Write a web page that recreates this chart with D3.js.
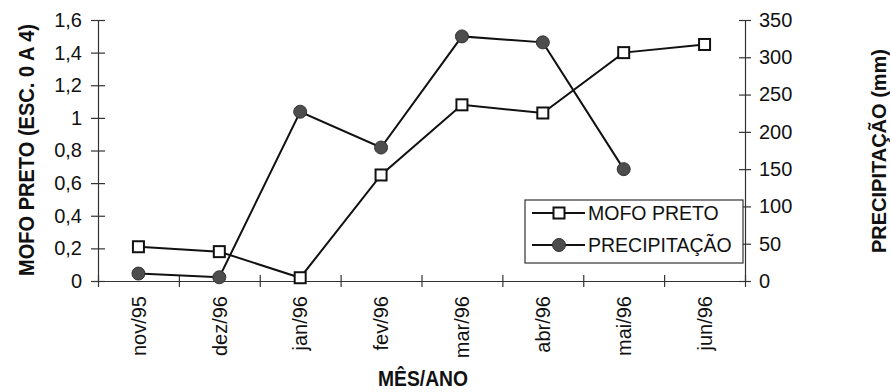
<!DOCTYPE html>
<html><head><meta charset="utf-8">
<script src="https://cdn.jsdelivr.net/npm/d3@7"></script>
<style>body{margin:0;background:#fff}svg{display:block}</style>
</head><body><svg id="c" width="890" height="392"></svg>
<script>
const months = ["nov/95","dez/96","jan/96","fev/96","mar/96","abr/96","mai/96","jun/96"];
const mofoPreto = [0.21,0.18,0.02,0.65,1.08,1.03,1.40,1.45];
const precipMonths = ["nov/95","dez/96","jan/96","fev/96","mar/96","abr/96","mai/96"];
const precipitacao = [10,5,227,179,328,320,150];
const leftTicks = [0,0.2,0.4,0.6,0.8,1,1.2,1.4,1.6];
const leftTickLabels = ["0","0,2","0,4","0,6","0,8","1","1,2","1,4","1,6"];
const rightTicks = [0,50,100,150,200,250,300,350];
const seriesNames = ["MOFO PRETO","PRECIPITAÇÃO"];

const svg = d3.select("#c");
const FONT = "'Liberation Sans', Arial, sans-serif";
const NARROW = "'Liberation Sans Narrow', 'Liberation Sans', Arial, sans-serif";
const L = 98, R = 745, T = 20, B = 281;

const x = d3.scaleBand().domain(months).range([L, R]);
const xb = d3.scaleLinear().domain([0, months.length]).range([L, R]);
const y1 = d3.scaleLinear().domain([0, 1.6]).range([B, T]);
const y2 = d3.scaleLinear().domain([0, 350]).range([B, T]);

// bottom axis (ticks at category boundaries)
const gx = svg.append("g").attr("transform", `translate(0,${B})`)
  .call(d3.axisBottom(xb).tickValues(d3.range(months.length + 1)).tickFormat("").tickSizeOuter(0).tickSizeInner(6));
gx.selectAll(".tick line").attr("y1", -6).attr("y2", 6);
const gxl = svg.append("g").attr("transform", `translate(0,${B})`)
  .call(d3.axisBottom(x).tickSize(0));
gxl.select(".domain").remove();
gxl.selectAll("text").attr("transform", "rotate(-90)").attr("x", -15).attr("y", 0).attr("dy", "0.36em")
  .attr("text-anchor", "end").style("font-family", FONT).style("font-size", "20px").attr("fill", "#111");

// left axis
const gl = svg.append("g").attr("transform", `translate(${L},0)`)
  .call(d3.axisLeft(y1).tickValues(leftTicks).tickFormat((d, i) => leftTickLabels[i]).tickSizeOuter(0).tickSizeInner(7));
gl.selectAll(".tick line").attr("x1", -7).attr("x2", 7);
gl.selectAll(".tick text").attr("x", -16).style("font-family", FONT).style("font-size", "20px").attr("fill", "#111");

// right axis
const gr = svg.append("g").attr("transform", `translate(${R},0)`)
  .call(d3.axisRight(y2).tickValues(rightTicks).tickSizeOuter(0).tickSizeInner(6));
gr.selectAll(".tick line").attr("x1", -6).attr("x2", 6);
gr.selectAll(".tick text").attr("x", 14).style("font-family", FONT).style("font-size", "20px").attr("fill", "#111");

svg.selectAll(".domain, .tick line").attr("stroke", "#333").attr("stroke-width", 1.2);

// axis titles
svg.append("text").attr("transform", "translate(34,150) rotate(-90)").attr("text-anchor", "middle")
  .attr("textLength", 252).attr("lengthAdjust", "spacingAndGlyphs")
  .style("font-family", NARROW).style("font-weight", "bold").style("font-size", "22px").attr("fill", "#111")
  .text("MOFO PRETO (ESC. 0 A 4)");
svg.append("text").attr("transform", "translate(886,151) rotate(-90)").attr("text-anchor", "middle")
  .attr("textLength", 204).attr("lengthAdjust", "spacingAndGlyphs")
  .style("font-family", NARROW).style("font-weight", "bold").style("font-size", "21px").attr("fill", "#111")
  .text("PRECIPITAÇÃO (mm)");
svg.append("text").attr("x", 423).attr("y", 386).attr("text-anchor", "middle")
  .attr("textLength", 90).attr("lengthAdjust", "spacingAndGlyphs")
  .style("font-family", NARROW).style("font-weight", "bold").style("font-size", "22px").attr("fill", "#111")
  .text("MÊS/ANO");

// series lines
const cx = d => x(d) + x.bandwidth() / 2;
const mofoData = months.map((m, i) => ({ m, v: mofoPreto[i] }));
const precData = precipMonths.map((m, i) => ({ m, v: precipitacao[i] }));

svg.append("path").datum(precData)
  .attr("d", d3.line().x(d => cx(d.m)).y(d => y2(d.v)))
  .attr("fill", "none").attr("stroke", "#111").attr("stroke-width", 2);
svg.append("path").datum(mofoData)
  .attr("d", d3.line().x(d => cx(d.m)).y(d => y1(d.v)))
  .attr("fill", "none").attr("stroke", "#111").attr("stroke-width", 2);

svg.selectAll("circle.p").data(precData).enter().append("circle").attr("class", "p")
  .attr("cx", d => cx(d.m)).attr("cy", d => y2(d.v)).attr("r", 6.5)
  .attr("fill", "#4d4d4d").attr("stroke", "#333").attr("stroke-width", 1);
svg.selectAll("rect.m").data(mofoData).enter().append("rect").attr("class", "m")
  .attr("x", d => cx(d.m) - 5.5).attr("y", d => y1(d.v) - 5.5).attr("width", 11).attr("height", 11)
  .attr("fill", "#fff").attr("stroke", "#111").attr("stroke-width", 2);

// legend
const lg = svg.append("g");
lg.append("rect").attr("x", 525).attr("y", 200).attr("width", 218).attr("height", 63)
  .attr("fill", "#fff").attr("stroke", "#333").attr("stroke-width", 1.2);
const rows = [213, 245];
seriesNames.forEach((name, i) => {
  lg.append("line").attr("x1", 532).attr("x2", 585).attr("y1", rows[i]).attr("y2", rows[i])
    .attr("stroke", "#111").attr("stroke-width", 2);
  if (i === 0) {
    lg.append("rect").attr("x", 559 - 5.5).attr("y", rows[i] - 5.5).attr("width", 11).attr("height", 11)
      .attr("fill", "#fff").attr("stroke", "#111").attr("stroke-width", 2);
  } else {
    lg.append("circle").attr("cx", 559).attr("cy", rows[i]).attr("r", 6.5)
      .attr("fill", "#4d4d4d").attr("stroke", "#333").attr("stroke-width", 1);
  }
  lg.append("text").attr("x", 588).attr("y", rows[i] + 7)
    .style("font-family", FONT).style("font-size", "19.5px").attr("fill", "#111").text(name);
});
</script></body></html>
